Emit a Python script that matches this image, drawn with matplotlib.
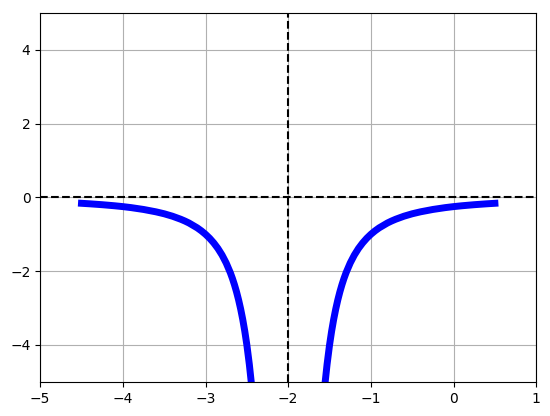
import matplotlib
matplotlib.use("Agg")
import matplotlib.pyplot as plt

# values
left_x = [-4.5, -4.4, -4.25, -4.1, -4.0, -3.9, -3.75, -3.6, -3.5, -3.4, -3.3, -3.25, -3.2, -3.1, -3.05,
          -3.0, -2.95, -2.9, -2.85, -2.8, -2.75, -2.7, -2.675, -2.65, -2.625, -2.6, -2.575, -2.55, -2.525,
          -2.5, -2.47, -2.447, -2.4]
left_y = [-0.16, -0.174, -0.198, -0.227, -0.25, -0.277, -0.327, -0.391, -0.444, -0.51, -0.592, -0.64, -0.694, -0.826, -0.907,
          -1.0, -1.108, -1.235, -1.384, -1.5625, -1.778, -2.041, -2.195, -2.367, -2.56, -2.778, -3.025, -3.306, -3.628,
          -4.0, -4.527, -5.005, -6.25]
right_x = [-1.6, -1.553, -1.53, -1.5, -1.475, -1.45, -1.425, -1.4, -1.375, -1.35, -1.325, -1.3, -1.25, -1.2, -1.15,
           -1.1, -1.05, -1.0, -0.95, -0.9, -0.8, -0.75, -0.7, -0.6, -0.5, -0.4, -0.25, -0.1, 0.0, 0.1, 0.25, 0.4, 0.5]
right_y = [-6.25, -5.005, -4.527, -4.0, -3.628, -3.306, -3.025, -2.778, -2.56, -2.367, -2.195, -2.041, -1.778, -1.5625, -1.384,
           -1.235, -1.108, -1.0, -0.907, -0.826, -0.694, -0.64, -0.592, -0.51, -0.444, -0.391, -0.327, -0.277, -0.25, -0.227, -0.198, -0.174, -0.16]
asymptote_x = -2
asymptote_y = 0

fig, ax = plt.subplots(figsize=(5.5, 4.16), dpi=100)
ax.plot(left_x, left_y, color='blue', lw=5)
ax.plot(right_x, right_y, color='blue', lw=5)
ax.axhline(asymptote_y, color='black', ls='--')
ax.axvline(asymptote_x, color='black', ls='--')
ax.set_xlim(-5, 1)
ax.set_ylim(-5, 5)
ax.grid(True)
fig.subplots_adjust(left=0.073, right=0.975, bottom=0.082, top=0.969)
fig.savefig("out.png")
